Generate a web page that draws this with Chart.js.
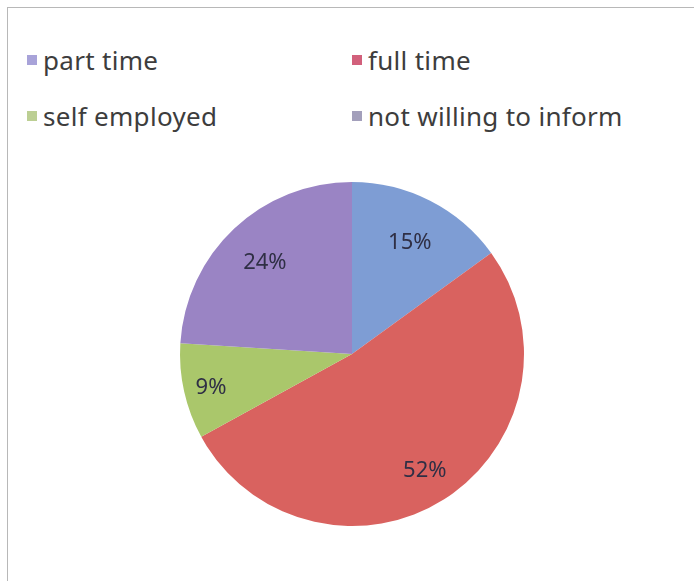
<!DOCTYPE html>
<html>
<head>
<meta charset="utf-8">
<script src="https://cdn.jsdelivr.net/npm/chart.js@4/dist/chart.umd.min.js"></script>
<style>
  html, body { margin: 0; padding: 0; background: #fff; }
  #wrap { position: relative; width: 694px; height: 581px; overflow: hidden; }
  #frame { position: absolute; left: 7px; top: 7px; right: -2px; bottom: -2px;
           border-top: 1px solid #b8b8b8; border-left: 1px solid #b8b8b8; }
  #legend { position: absolute; left: 27px; top: 44px; width: 640px;
            display: grid; grid-template-columns: 325px 1fr; row-gap: 24px;
            font-family: "Noto Sans", "Open Sans", sans-serif; font-size: 26px;
            letter-spacing: 0.3px; color: #3d3d3d; }
  #legend div { display: flex; align-items: center; height: 32px; white-space: nowrap; }
  #legend span.box { display: inline-block; width: 10px; height: 10px; margin-right: 6px; }
  canvas { position: absolute; left: 0; top: 0; }
</style>
</head>
<body>
<div id="wrap">
  <div id="frame"></div>
  <div id="legend"></div>
  <canvas id="pie" width="694" height="581"></canvas>
</div>
<script>
const categories = ['part time', 'full time', 'self employed', 'not willing to inform'];
const shares = [15, 52, 9, 24];
const sliceColors = ['#7e9dd4', '#d9625f', '#aac76b', '#9a84c4'];
const legendColors = ['#a8a3d9', '#d2607b', '#bccf93', '#a39fbb'];

// legend in two columns, as in the picture
const legend = document.getElementById('legend');
categories.forEach(function (name, i) {
    const item = document.createElement('div');
    item.innerHTML = '<span class="box" style="background:' + legendColors[i] + '"></span>' + name;
    legend.appendChild(item);
});

const pctLabels = {
    id: 'pctLabels',
    afterDatasetsDraw(chart) {
        const ctx = chart.ctx;
        const meta = chart.getDatasetMeta(0);
        ctx.save();
        ctx.font = '22px "Noto Sans", sans-serif';
        ctx.fillStyle = '#2f2f45';
        ctx.textAlign = 'center';
        ctx.textBaseline = 'middle';
        meta.data.forEach(function (arc, i) {
            const p = arc.getProps(['x', 'y', 'startAngle', 'endAngle', 'outerRadius'], true);
            const mid = (p.startAngle + p.endAngle) / 2;
            let k = 0.74;
            if (shares[i] < 10) k = 0.84;
            else if (shares[i] > 50) k = 0.79;
            const r = p.outerRadius * k;
            ctx.fillText(shares[i] + '%', p.x + Math.cos(mid) * r, p.y + Math.sin(mid) * r + 2);
        });
        ctx.restore();
    }
};

new Chart(document.getElementById('pie').getContext('2d'), {
    type: 'pie',
    data: {
        labels: categories,
        datasets: [{
            data: shares,
            backgroundColor: sliceColors,
            borderWidth: 0
        }]
    },
    options: {
        responsive: false,
        animation: false,
        layout: {
            padding: { left: 180, right: 170, top: 182, bottom: 55 }
        },
        plugins: {
            legend: { display: false },
            tooltip: { enabled: false }
        }
    },
    plugins: [pctLabels]
});
</script>
</body>
</html>
